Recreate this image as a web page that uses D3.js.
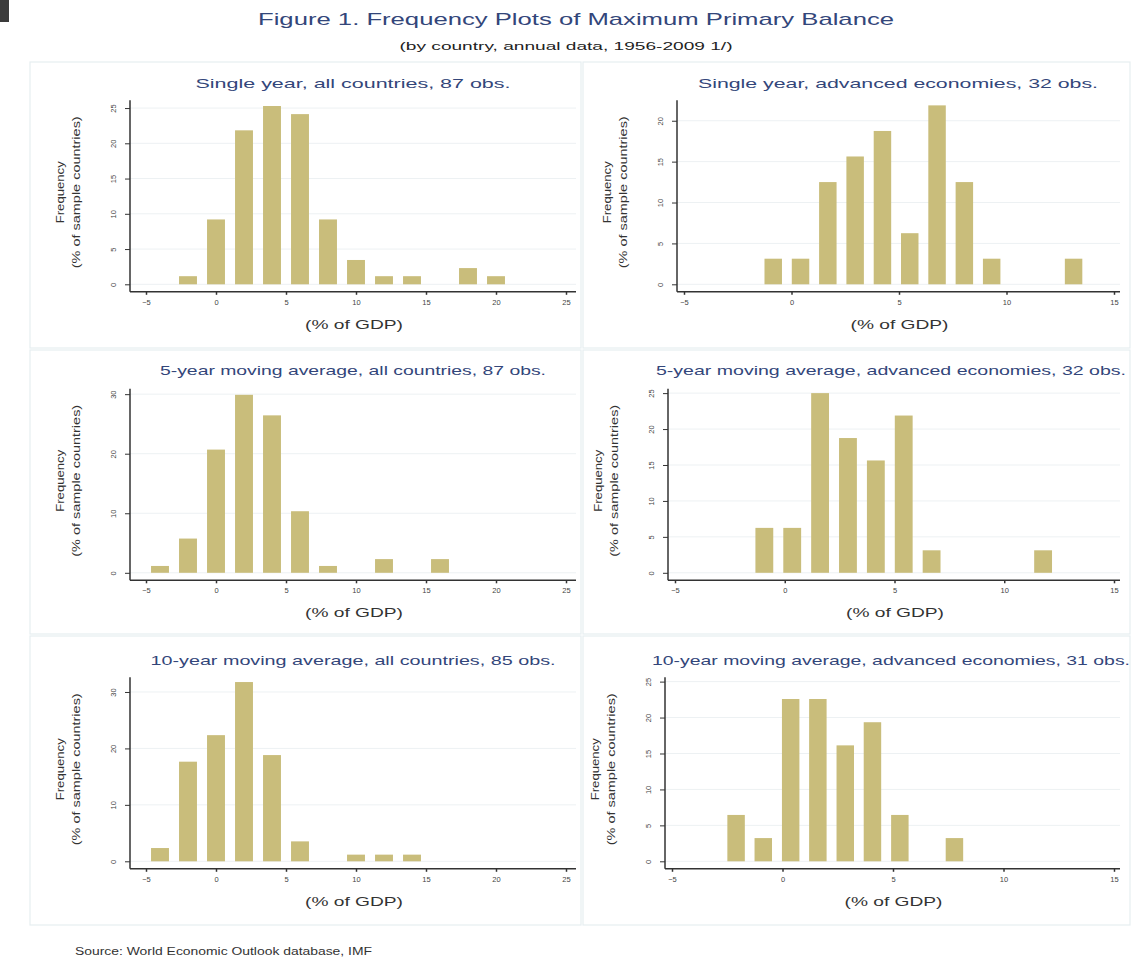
<!DOCTYPE html>
<html>
<head>
<meta charset="utf-8">
<script src="https://cdn.jsdelivr.net/npm/d3@7"></script>
<style>
  body { margin: 0; background: #fff; }
  svg { display: block; font-family: "Liberation Sans", Arial, sans-serif; }
</style>
</head>
<body>
<div id="chart"></div>
<script>
const width = 1132, height = 960;

// panel titles, in reading order
const panelTitles = [
    "Single year, all countries, 87 obs.",
    "Single year, advanced economies, 32 obs.",
    "5-year moving average, all countries, 87 obs.",
    "5-year moving average, advanced economies, 32 obs.",
    "10-year moving average, all countries, 85 obs.",
    "10-year moving average, advanced economies, 31 obs."
];

// bin midpoints (% of GDP) and frequencies (% of sample countries)
const singleAllMid = [-2, 0, 2, 4, 6, 8, 10, 12, 14, 18, 20];
const singleAllPct = [1.15, 9.20, 21.84, 25.29, 24.14, 9.20, 3.45, 1.15, 1.15, 2.30, 1.15];
const singleAdvMid = [-0.85, 0.42, 1.69, 2.96, 4.23, 5.50, 6.77, 8.04, 9.31, 13.12];
const singleAdvPct = [3.13, 3.13, 12.50, 15.63, 18.75, 6.25, 21.88, 12.50, 3.13, 3.13];
const ma5AllMid = [-4, -2, 0, 2, 4, 6, 8, 12, 16];
const ma5AllPct = [1.15, 5.75, 20.69, 29.89, 26.44, 10.34, 1.15, 2.30, 2.30];
const ma5AdvMid = [-0.93, 0.34, 1.61, 2.88, 4.15, 5.42, 6.69, 11.77];
const ma5AdvPct = [6.25, 6.25, 25.00, 18.75, 15.63, 21.88, 3.13, 3.13];
const ma10AllMid = [-4, -2, 0, 2, 4, 6, 10, 12, 14];
const ma10AllPct = [2.35, 17.65, 22.35, 31.76, 18.82, 3.53, 1.18, 1.18, 1.18];
const ma10AdvMid = [-2.10, -0.87, 0.37, 1.60, 2.84, 4.07, 5.31, 7.78];
const ma10AdvPct = [6.45, 3.23, 22.58, 22.58, 16.13, 19.35, 6.45, 3.23];

const binWidths = [2, 1.27, 2, 1.27, 2, 1.235];

// axis ticks
const xTicksAll = [-5, 0, 5, 10, 15, 20, 25];
const xTicksAdv = [-5, 0, 5, 10, 15];
const yTicks = [
    [0, 5, 10, 15, 20, 25],
    [0, 5, 10, 15, 20],
    [0, 10, 20, 30],
    [0, 5, 10, 15, 20, 25],
    [0, 10, 20, 30],
    [0, 5, 10, 15, 20, 25]
];
const yMax = [26.1, 22.5, 30.9, 25.6, 32.6, 25.6];

const mids = [singleAllMid, singleAdvMid, ma5AllMid, ma5AdvMid, ma10AllMid, ma10AdvMid];
const pcts = [singleAllPct, singleAdvPct, ma5AllPct, ma5AdvPct, ma10AllPct, ma10AdvPct];

const barColor = "#c9bd7b";
const titleColor = "#33467a";

const svg = d3.select("#chart").append("svg")
    .attr("width", width)
    .attr("height", height);

svg.append("rect").attr("x", 0).attr("y", 0).attr("width", 9).attr("height", 22).attr("fill", "#3b3b3b");

// figure title
svg.append("text")
    .attr("x", 576).attr("y", 25)
    .attr("text-anchor", "middle")
    .attr("font-size", 17)
    .attr("fill", titleColor)
    .attr("textLength", 636).attr("lengthAdjust", "spacingAndGlyphs")
    .text("Figure 1. Frequency Plots of Maximum Primary Balance");

svg.append("text")
    .attr("x", 566).attr("y", 50)
    .attr("text-anchor", "middle")
    .attr("font-size", 11)
    .attr("fill", "#222")
    .attr("textLength", 333).attr("lengthAdjust", "spacingAndGlyphs")
    .text("(by country, annual data, 1956-2009 1/)");

// panel boxes
const colBox = [[30, 581], [583, 1130]];
const rowBox = [[62, 348], [350, 634], [636, 925]];
rowBox.forEach(r => colBox.forEach(c => {
    svg.append("rect")
        .attr("x", c[0]).attr("y", r[0])
        .attr("width", c[1] - c[0]).attr("height", r[1] - r[0])
        .attr("fill", "none")
        .attr("stroke", "#e6eef1")
        .attr("stroke-width", 1.2);
}));

// layout per panel
const rowY0 = [284.3, 572.8, 861.3];
const titleWidths = [315, 400, 386, 470, 405, 478];
const plotH = 184;

function drawPanel(i) {
    const row = Math.floor(i / 2), col = i % 2;
    const y0 = rowY0[row];
    const plotTop = y0 - plotH;
    const axisY = y0 + 7.5;

    let x, left, right;
    if (col === 0) {
        left = 130; right = 576;
        x = d3.scaleLinear().domain([-5, 25]).range([146, 566]);
    } else {
        left = [677, 668, 665][row]; right = 1120;
        x = d3.scaleLinear().domain([-5, 15]).range([left + 7, 1114]);
    }
    const y = d3.scaleLinear().domain([0, yMax[i]]).range([y0, plotTop]);
    const g = svg.append("g");

    // grid
    g.append("g").selectAll("line")
        .data(yTicks[i])
        .enter().append("line")
        .attr("x1", left).attr("x2", right)
        .attr("y1", d => y(d)).attr("y2", d => y(d))
        .attr("stroke", "#edf1f3")
        .attr("stroke-width", 1);

    // bars
    const bw = binWidths[i] * 0.32;
    g.append("g").selectAll("rect")
        .data(mids[i].map((m, k) => [m, pcts[i][k]]))
        .enter().append("rect")
        .attr("x", d => x(d[0] - bw))
        .attr("width", d => x(d[0] + bw) - x(d[0] - bw))
        .attr("y", d => y(d[1]))
        .attr("height", d => y(0) - y(d[1]))
        .attr("fill", barColor);

    // x axis
    const xAxis = g.append("g")
        .attr("transform", `translate(0,${axisY})`)
        .call(d3.axisBottom(x).tickValues(col === 0 ? xTicksAll : xTicksAdv).tickSize(3).tickSizeOuter(0));
    xAxis.select(".domain").remove();
    xAxis.selectAll(".tick line").attr("stroke", "#333").attr("stroke-width", 1.5);
    xAxis.selectAll(".tick text")
        .attr("font-size", 7.5).attr("fill", "#444").attr("dy", "0.9em")
        .attr("font-family", "Liberation Sans, Arial, sans-serif");
    g.append("line")
        .attr("x1", left).attr("x2", right)
        .attr("y1", axisY).attr("y2", axisY)
        .attr("stroke", "#333").attr("stroke-width", 1.5);

    // y axis
    const yAxis = g.append("g")
        .attr("transform", `translate(${left},0)`)
        .call(d3.axisLeft(y).tickValues(yTicks[i]).tickSize(5).tickSizeOuter(0));
    yAxis.select(".domain").remove();
    yAxis.selectAll(".tick line").attr("stroke", "#333").attr("stroke-width", 1);
    yAxis.selectAll(".tick text")
        .attr("font-size", 7.5).attr("fill", "#444")
        .attr("font-family", "Liberation Sans, Arial, sans-serif")
        .attr("x", 0).attr("dy", 0)
        .attr("text-anchor", "middle")
        .attr("transform", "translate(-14,0) rotate(-90)");
    g.append("line")
        .attr("x1", left).attr("x2", left)
        .attr("y1", plotTop).attr("y2", axisY)
        .attr("stroke", "#333").attr("stroke-width", 1.5);

    // y title
    const ymid = (plotTop + y0) / 2;
    [["Frequency", -66, 62], ["(% of sample countries)", -50, 152]].forEach(([t, dx, len]) => {
        g.append("text")
            .attr("transform", `translate(${left + dx},${ymid}) rotate(-90)`)
            .attr("text-anchor", "middle")
            .attr("font-size", 10).attr("fill", "#333")
            .attr("textLength", len).attr("lengthAdjust", "spacingAndGlyphs")
            .text(t);
    });

    // x title
    g.append("text")
        .attr("x", (left + right) / 2 + 1).attr("y", axisY + 37)
        .attr("text-anchor", "middle")
        .attr("font-size", 12).attr("fill", "#333")
        .attr("textLength", 98).attr("lengthAdjust", "spacingAndGlyphs")
        .text("(% of GDP)");

    // panel title
    const tcx = col === 0 ? (left + right) / 2 : (row === 0 ? 898 : 891);
    g.append("text")
        .attr("x", tcx).attr("y", [88, 375, 665][row])
        .attr("text-anchor", "middle")
        .attr("font-size", 13).attr("fill", titleColor)
        .attr("textLength", titleWidths[i]).attr("lengthAdjust", "spacingAndGlyphs")
        .text(panelTitles[i]);
}

d3.range(6).forEach(drawPanel);

svg.append("text")
    .attr("x", 75).attr("y", 955)
    .attr("font-size", 10).attr("fill", "#333")
    .attr("textLength", 297).attr("lengthAdjust", "spacingAndGlyphs")
    .text("Source: World Economic Outlook database, IMF");
</script>
</body>
</html>
